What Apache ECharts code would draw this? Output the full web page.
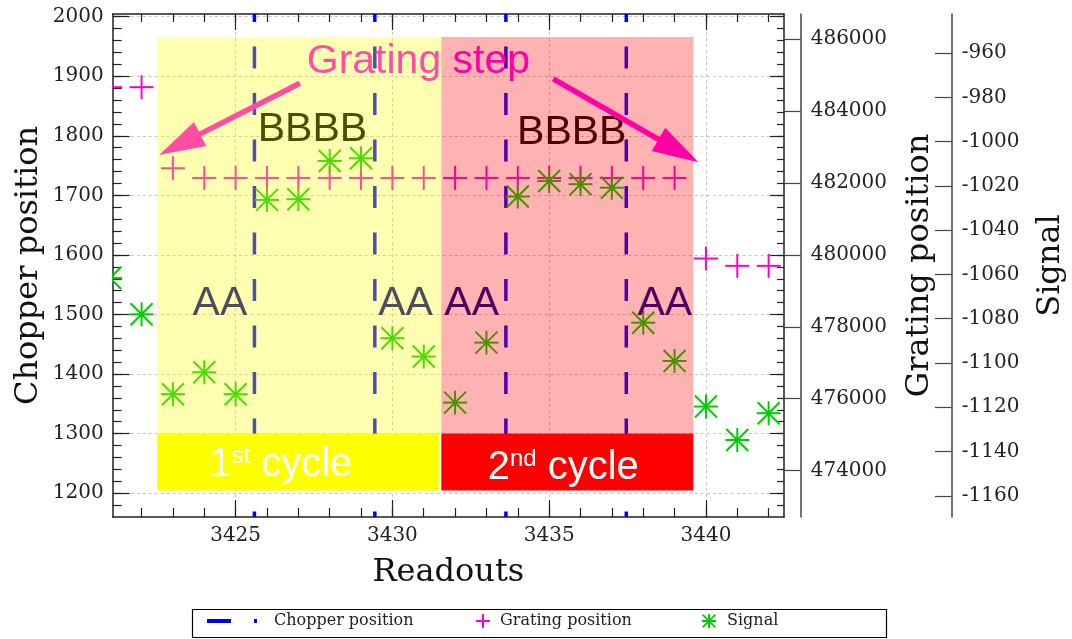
<!DOCTYPE html>
<html>
<head>
<meta charset="utf-8">
<script src="https://cdn.jsdelivr.net/npm/echarts@6/dist/echarts.min.js"></script>
<style>
  html, body { margin: 0; padding: 0; background: #ffffff; }
  #chart { width: 1072px; height: 639px; }
</style>
</head>
<body>
<div id="chart"></div>
<script>
// ---- data -------------------------------------------------------------
const readouts = [3421, 3422, 3423, 3424, 3425, 3426, 3427, 3428, 3429, 3430, 3431,
                  3432, 3433, 3434, 3435, 3436, 3437, 3438, 3439, 3440, 3441, 3442];

const gratingPosition = [484665, 484665, 482410,
  482140, 482140, 482140, 482140, 482140, 482140, 482140, 482140,
  482140, 482140, 482140, 482140, 482140, 482140, 482140, 482140,
  479900, 479695, 479695];

const signal = [-1061.6, -1078.0, -1114.1, -1104.2, -1114.1, -1026.3, -1026.0, -1008.7,
                -1007.5, -1088.8, -1097.1, -1117.9, -1090.8, -1024.8, -1017.8, -1019.2,
                -1020.8, -1081.8, -1099.1, -1119.7, -1134.8, -1122.7];

// readouts at which the chopper switches position
const chopperSwitches = [3425.6, 3429.44, 3433.62, 3437.46];

// grating cycles
const cycleOrdinal = ['1', '2'];
const cycleSuffix = ['st', 'nd'];
const cycleStart = [3422.5, 3431.56];
const cycleEnd = [3431.56, 3439.6];

// tick labels
const readoutTicks = [3425, 3430, 3435, 3440];
const chopperTicks = [1200, 1300, 1400, 1500, 1600, 1700, 1800, 1900, 2000];
const gratingTicks = [474000, 476000, 478000, 480000, 482000, 484000, 486000];
const signalTicks = [-1160, -1140, -1120, -1100, -1080, -1060, -1040, -1020, -1000, -980, -960];

// annotations, anchored in (readout, chopper position) units
const notes = [
  { text: 'Grating step', kind: 'step', at: [3430.83, 1924] },
  { text: 'BBBB', kind: 'B', at: [3427.45, 1810] },
  { text: 'BBBB', kind: 'B', at: [3435.72, 1806] },
  { text: 'AA', kind: 'A', at: [3424.50, 1517.6] },
  { text: 'AA', kind: 'A', at: [3430.42, 1517.6] },
  { text: 'AA', kind: 'A', at: [3432.53, 1517.6] },
  { text: 'AA', kind: 'A', at: [3438.69, 1517.6] }
];
const stepArrows = [
  { from: [3427.05, 1888.2], to: [3422.56, 1767.9] },
  { from: [3435.13, 1895.4], to: [3439.76, 1755.6] }
];
const cycleLabelAt = [[3426.44, 1248], [3435.45, 1243]];

// ---- styles -----------------------------------------------------------
const SERIF = 'DejaVu Serif';
const SANS = 'Liberation Sans';
const INK = '#222222';
const CHOPPER_COLOR = '#0000ff';
const GRATING_COLOR = '#ff00cc';
const SIGNAL_COLOR = '#00cc00';
const NOTE_COLORS = { step: '#ff00ee', B: '#000000', A: '#00008b' };
const CYCLE_COLORS = ['#ffff00', '#ff0000'];
// vertical extent of the cycle boxes, in chopper-position units
const BOX_TOP = 1966;
const BAR_TOP = 1300;
const BAR_BOTTOM = 1204.4;

const X_MIN = 3421.08, X_MAX = 3442.49;
const CHOP_MIN = 1160, CHOP_MAX = 2004.5;
const GRAT_MIN = 472710, GRAT_MAX = 486700;
const SIG_MIN = -1169.6, SIG_MAX = -942.3;

const minorReadouts = [];
for (let v = 3422; v <= 3442; v++) minorReadouts.push(v);
const minorChopper = [];
for (let v = 1180; v <= 2000; v += 20) minorChopper.push(v);

const plainNumber = v => String(v);
const tickLine = { color: INK, width: 1.2 };
const frameLine = { show: true, onZero: false, lineStyle: { color: INK, width: 1.5 } };
const gridLine = { show: true, lineStyle: { color: '#c4c4c4', width: 1, type: [3, 3] } };
const tickLabel = { fontFamily: SERIF, fontSize: 20, color: INK, formatter: plainNumber };
const titleText = { fontFamily: SERIF, fontSize: 32, color: '#111111' };

function tickOnlyAxis(extra) {
  return Object.assign({
    type: 'value',
    axisLine: { show: false, onZero: false },
    axisLabel: { show: false },
    splitLine: { show: false }
  }, extra);
}

function seg(x1, y1, x2, y2, color, width) {
  return { type: 'line', shape: { x1, y1, x2, y2 }, style: { stroke: color, lineWidth: width, fill: null } };
}

const PLUS_ICON = 'path://M0,6H14V8H0Z M6,0H8V14H6Z';
const STAR_ICON = 'path://M0,6H14V8H0Z M6,0H8V14H6Z M1.2,0L14,12.8L12.8,14L0,1.2Z M12.8,0L14,1.2L1.2,14L0,12.8Z';
const CHOP_ICON = 'path://M0,0H24V4H0Z M47,0H50V4H47Z';

const chart = echarts.init(document.getElementById('chart'), null, { renderer: 'canvas' });

const option = {
  animation: false,
  backgroundColor: '#ffffff',
  grid: { left: 112.7, top: 14, right: 288, bottom: 122, containLabel: false, outerBoundsMode: 'none' },
  xAxis: [
    {
      type: 'value', position: 'bottom', min: X_MIN, max: X_MAX,
      axisLine: frameLine,
      axisTick: { show: true, inside: true, length: 17, customValues: readoutTicks, lineStyle: tickLine },
      axisLabel: Object.assign({ customValues: readoutTicks, margin: 9 }, tickLabel),
      splitLine: gridLine,
      name: 'Readouts', nameLocation: 'middle', nameGap: 40, nameMoveOverlap: false,
      nameTextStyle: titleText
    },
    tickOnlyAxis({ position: 'bottom', min: X_MIN, max: X_MAX,
      axisTick: { show: true, inside: true, length: 9, customValues: minorReadouts, lineStyle: tickLine } }),
    tickOnlyAxis({ position: 'top', min: X_MIN, max: X_MAX, axisLine: frameLine,
      axisTick: { show: true, inside: true, length: 16, customValues: readoutTicks, lineStyle: tickLine } }),
    tickOnlyAxis({ position: 'top', min: X_MIN, max: X_MAX,
      axisTick: { show: true, inside: true, length: 8, customValues: minorReadouts, lineStyle: tickLine } })
  ],
  yAxis: [
    {
      type: 'value', position: 'left', min: CHOP_MIN, max: CHOP_MAX,
      axisLine: frameLine,
      axisTick: { show: true, inside: true, length: 17, customValues: chopperTicks, lineStyle: tickLine },
      axisLabel: Object.assign({ customValues: chopperTicks, margin: 9 }, tickLabel),
      splitLine: gridLine,
      name: 'Chopper position', nameLocation: 'middle', nameRotate: 90, nameGap: 68, nameMoveOverlap: false,
      nameTextStyle: titleText
    },
    tickOnlyAxis({ position: 'left', min: CHOP_MIN, max: CHOP_MAX,
      axisTick: { show: true, inside: true, length: 9, customValues: minorChopper, lineStyle: tickLine } }),
    tickOnlyAxis({ position: 'right', min: CHOP_MIN, max: CHOP_MAX, axisLine: frameLine,
      axisTick: { show: true, inside: true, length: 14, customValues: chopperTicks, lineStyle: tickLine } }),
    tickOnlyAxis({ position: 'right', min: CHOP_MIN, max: CHOP_MAX,
      axisTick: { show: true, inside: true, length: 7, customValues: minorChopper, lineStyle: tickLine } }),
    {
      type: 'value', position: 'right', offset: 16.7, min: GRAT_MIN, max: GRAT_MAX,
      axisLine: { show: true, onZero: false, lineStyle: { color: '#444444', width: 1.5 } },
      axisTick: { show: true, inside: true, length: 16.7, customValues: gratingTicks, lineStyle: { color: '#444444', width: 1.2 } },
      axisLabel: Object.assign({ customValues: gratingTicks, margin: 10 }, tickLabel),
      splitLine: { show: false },
      name: 'Grating position', nameLocation: 'middle', nameRotate: 90, nameGap: 103, nameMoveOverlap: false,
      nameTextStyle: titleText
    },
    {
      type: 'value', position: 'right', offset: 167.7, min: SIG_MIN, max: SIG_MAX,
      axisLine: { show: true, onZero: false, lineStyle: { color: '#444444', width: 1.5 } },
      axisTick: { show: true, inside: true, length: 16.7, customValues: signalTicks, lineStyle: { color: '#444444', width: 1.2 } },
      axisLabel: Object.assign({ customValues: signalTicks, margin: 10 }, tickLabel),
      splitLine: { show: false },
      name: 'Signal', nameLocation: 'middle', nameRotate: 90, nameGap: 83, nameMoveOverlap: false,
      nameTextStyle: titleText
    }
  ],
  legend: [
    {
      data: [{ name: 'Chopper position', icon: CHOP_ICON }],
      left: 207, top: 613, padding: 0, itemWidth: 50, itemHeight: 4,
      textStyle: { fontFamily: SERIF, fontSize: 16, color: INK, padding: [0, 0, 0, 12] }
    },
    {
      data: [{ name: 'Grating position', icon: PLUS_ICON }],
      left: 476, top: 613, padding: 0, itemWidth: 14, itemHeight: 14,
      textStyle: { fontFamily: SERIF, fontSize: 16, color: INK, padding: [0, 0, 0, 5] }
    },
    {
      data: [{ name: 'Signal', icon: STAR_ICON }],
      left: 702, top: 613, padding: 0, itemWidth: 14, itemHeight: 14,
      textStyle: { fontFamily: SERIF, fontSize: 16, color: INK, padding: [0, 0, 0, 6] }
    }
  ],
  graphic: [
    { type: 'rect', left: 190, top: 607, shape: { width: 694, height: 28 },
      style: { fill: null, stroke: '#000000', lineWidth: 1.2 }, z: 100 }
  ],
  series: [
    {
      name: 'Chopper position', type: 'custom', xAxisIndex: 0, yAxisIndex: 0, z: 2, clip: true,
      itemStyle: { color: CHOPPER_COLOR },
      data: chopperSwitches.map(v => [v, CHOP_MIN]),
      encode: { x: 0, y: 1 },
      renderItem(params, api) {
        const x = api.coord([api.value(0), CHOP_MIN])[0];
        const cs = params.coordSys;
        return {
          type: 'line',
          shape: { x1: x, y1: cs.y, x2: x, y2: cs.y + cs.height },
          style: { stroke: CHOPPER_COLOR, lineWidth: 3.5, lineDash: [22, 24.5], lineDashOffset: 14 }
        };
      }
    },
    {
      name: 'Grating position', type: 'custom', xAxisIndex: 0, yAxisIndex: 4, z: 2, clip: true,
      itemStyle: { color: GRATING_COLOR },
      data: readouts.map((r, i) => [r, gratingPosition[i]]),
      encode: { x: 0, y: 1 },
      renderItem(params, api) {
        const p = api.coord([api.value(0), api.value(1)]);
        const r = 12;
        return { type: 'group', children: [
          seg(p[0] - r, p[1], p[0] + r, p[1], GRATING_COLOR, 2),
          seg(p[0], p[1] - r, p[0], p[1] + r, GRATING_COLOR, 2)
        ] };
      }
    },
    {
      name: 'Signal', type: 'custom', xAxisIndex: 0, yAxisIndex: 5, z: 2, clip: true,
      itemStyle: { color: SIGNAL_COLOR },
      data: readouts.map((r, i) => [r, signal[i]]),
      encode: { x: 0, y: 1 },
      renderItem(params, api) {
        const p = api.coord([api.value(0), api.value(1)]);
        const r = 12, d = 11;
        return { type: 'group', children: [
          seg(p[0] - r, p[1], p[0] + r, p[1], SIGNAL_COLOR, 2),
          seg(p[0], p[1] - r, p[0], p[1] + r, SIGNAL_COLOR, 2),
          seg(p[0] - d, p[1] - d, p[0] + d, p[1] + d, SIGNAL_COLOR, 2),
          seg(p[0] - d, p[1] + d, p[0] + d, p[1] - d, SIGNAL_COLOR, 2)
        ] };
      }
    },
    {
      name: 'notes', type: 'custom', xAxisIndex: 0, yAxisIndex: 0, z: 3, clip: false, silent: true,
      data: notes.map(n => n.at),
      encode: { x: 0, y: 1 },
      renderItem(params, api) {
        const n = notes[params.dataIndex];
        const p = api.coord([api.value(0), api.value(1)]);
        return {
          type: 'text', x: p[0], y: p[1],
          style: { text: n.text, fill: NOTE_COLORS[n.kind], fontFamily: SANS, fontSize: 41,
                   align: 'center', verticalAlign: 'middle' }
        };
      }
    },
    {
      name: 'arrows', type: 'custom', xAxisIndex: 0, yAxisIndex: 0, z: 3, clip: false, silent: true,
      data: stepArrows.map(a => [a.from[0], a.from[1], a.to[0], a.to[1]]),
      encode: { x: [0, 2], y: [1, 3] },
      renderItem(params, api) {
        const p0 = api.coord([api.value(0), api.value(1)]);
        const p1 = api.coord([api.value(2), api.value(3)]);
        const dx = p1[0] - p0[0], dy = p1[1] - p0[1];
        const len = Math.hypot(dx, dy);
        const ux = dx / len, uy = dy / len;
        const head = 46, half = 13.5;
        const bx = p1[0] - ux * head, by = p1[1] - uy * head;
        return { type: 'group', children: [
          seg(p0[0], p0[1], bx + ux * 4, by + uy * 4, NOTE_COLORS.step, 5.5),
          { type: 'polygon',
            shape: { points: [[p1[0], p1[1]], [bx - uy * half, by + ux * half], [bx + uy * half, by - ux * half]] },
            style: { fill: NOTE_COLORS.step } }
        ] };
      }
    },
    {
      name: 'cycles', type: 'custom', xAxisIndex: 0, yAxisIndex: 0, z: 5, clip: false, silent: true,
      data: cycleStart.map((s, i) => [s, cycleEnd[i]]),
      encode: { x: [0, 1] },
      renderItem(params, api) {
        const i = params.dataIndex;
        const a = api.coord([api.value(0), BOX_TOP]);
        const b = api.coord([api.value(1), BAR_TOP]);
        const c = api.coord([api.value(1), BAR_BOTTOM]);
        const gap = i < cycleStart.length - 1 ? 2.5 : 0;
        return { type: 'group', children: [
          { type: 'rect', shape: { x: a[0], y: a[1], width: b[0] - a[0], height: b[1] - a[1] },
            style: { fill: CYCLE_COLORS[i], opacity: 0.3 } },
          { type: 'rect', shape: { x: a[0], y: b[1], width: b[0] - a[0] - gap, height: c[1] - b[1] },
            style: { fill: CYCLE_COLORS[i] } }
        ] };
      }
    },
    {
      name: 'cycle labels', type: 'custom', xAxisIndex: 0, yAxisIndex: 0, z: 6, clip: false, silent: true,
      data: cycleLabelAt,
      encode: { x: 0, y: 1 },
      renderItem(params, api) {
        const i = params.dataIndex;
        const p = api.coord([api.value(0), api.value(1)]);
        return {
          type: 'text', x: p[0], y: p[1],
          style: {
            text: '{n|' + cycleOrdinal[i] + '}{s|' + cycleSuffix[i] + '}{n| cycle}',
            align: 'center', verticalAlign: 'middle',
            rich: {
              n: { fontFamily: SANS, fontSize: 40, fill: '#ffffff', color: '#ffffff', lineHeight: 40 },
              s: { fontFamily: SANS, fontSize: 24, fill: '#ffffff', color: '#ffffff', lineHeight: 24, verticalAlign: 'top' }
            }
          }
        };
      }
    }
  ]
};

chart.setOption(option);
</script>
</body>
</html>
